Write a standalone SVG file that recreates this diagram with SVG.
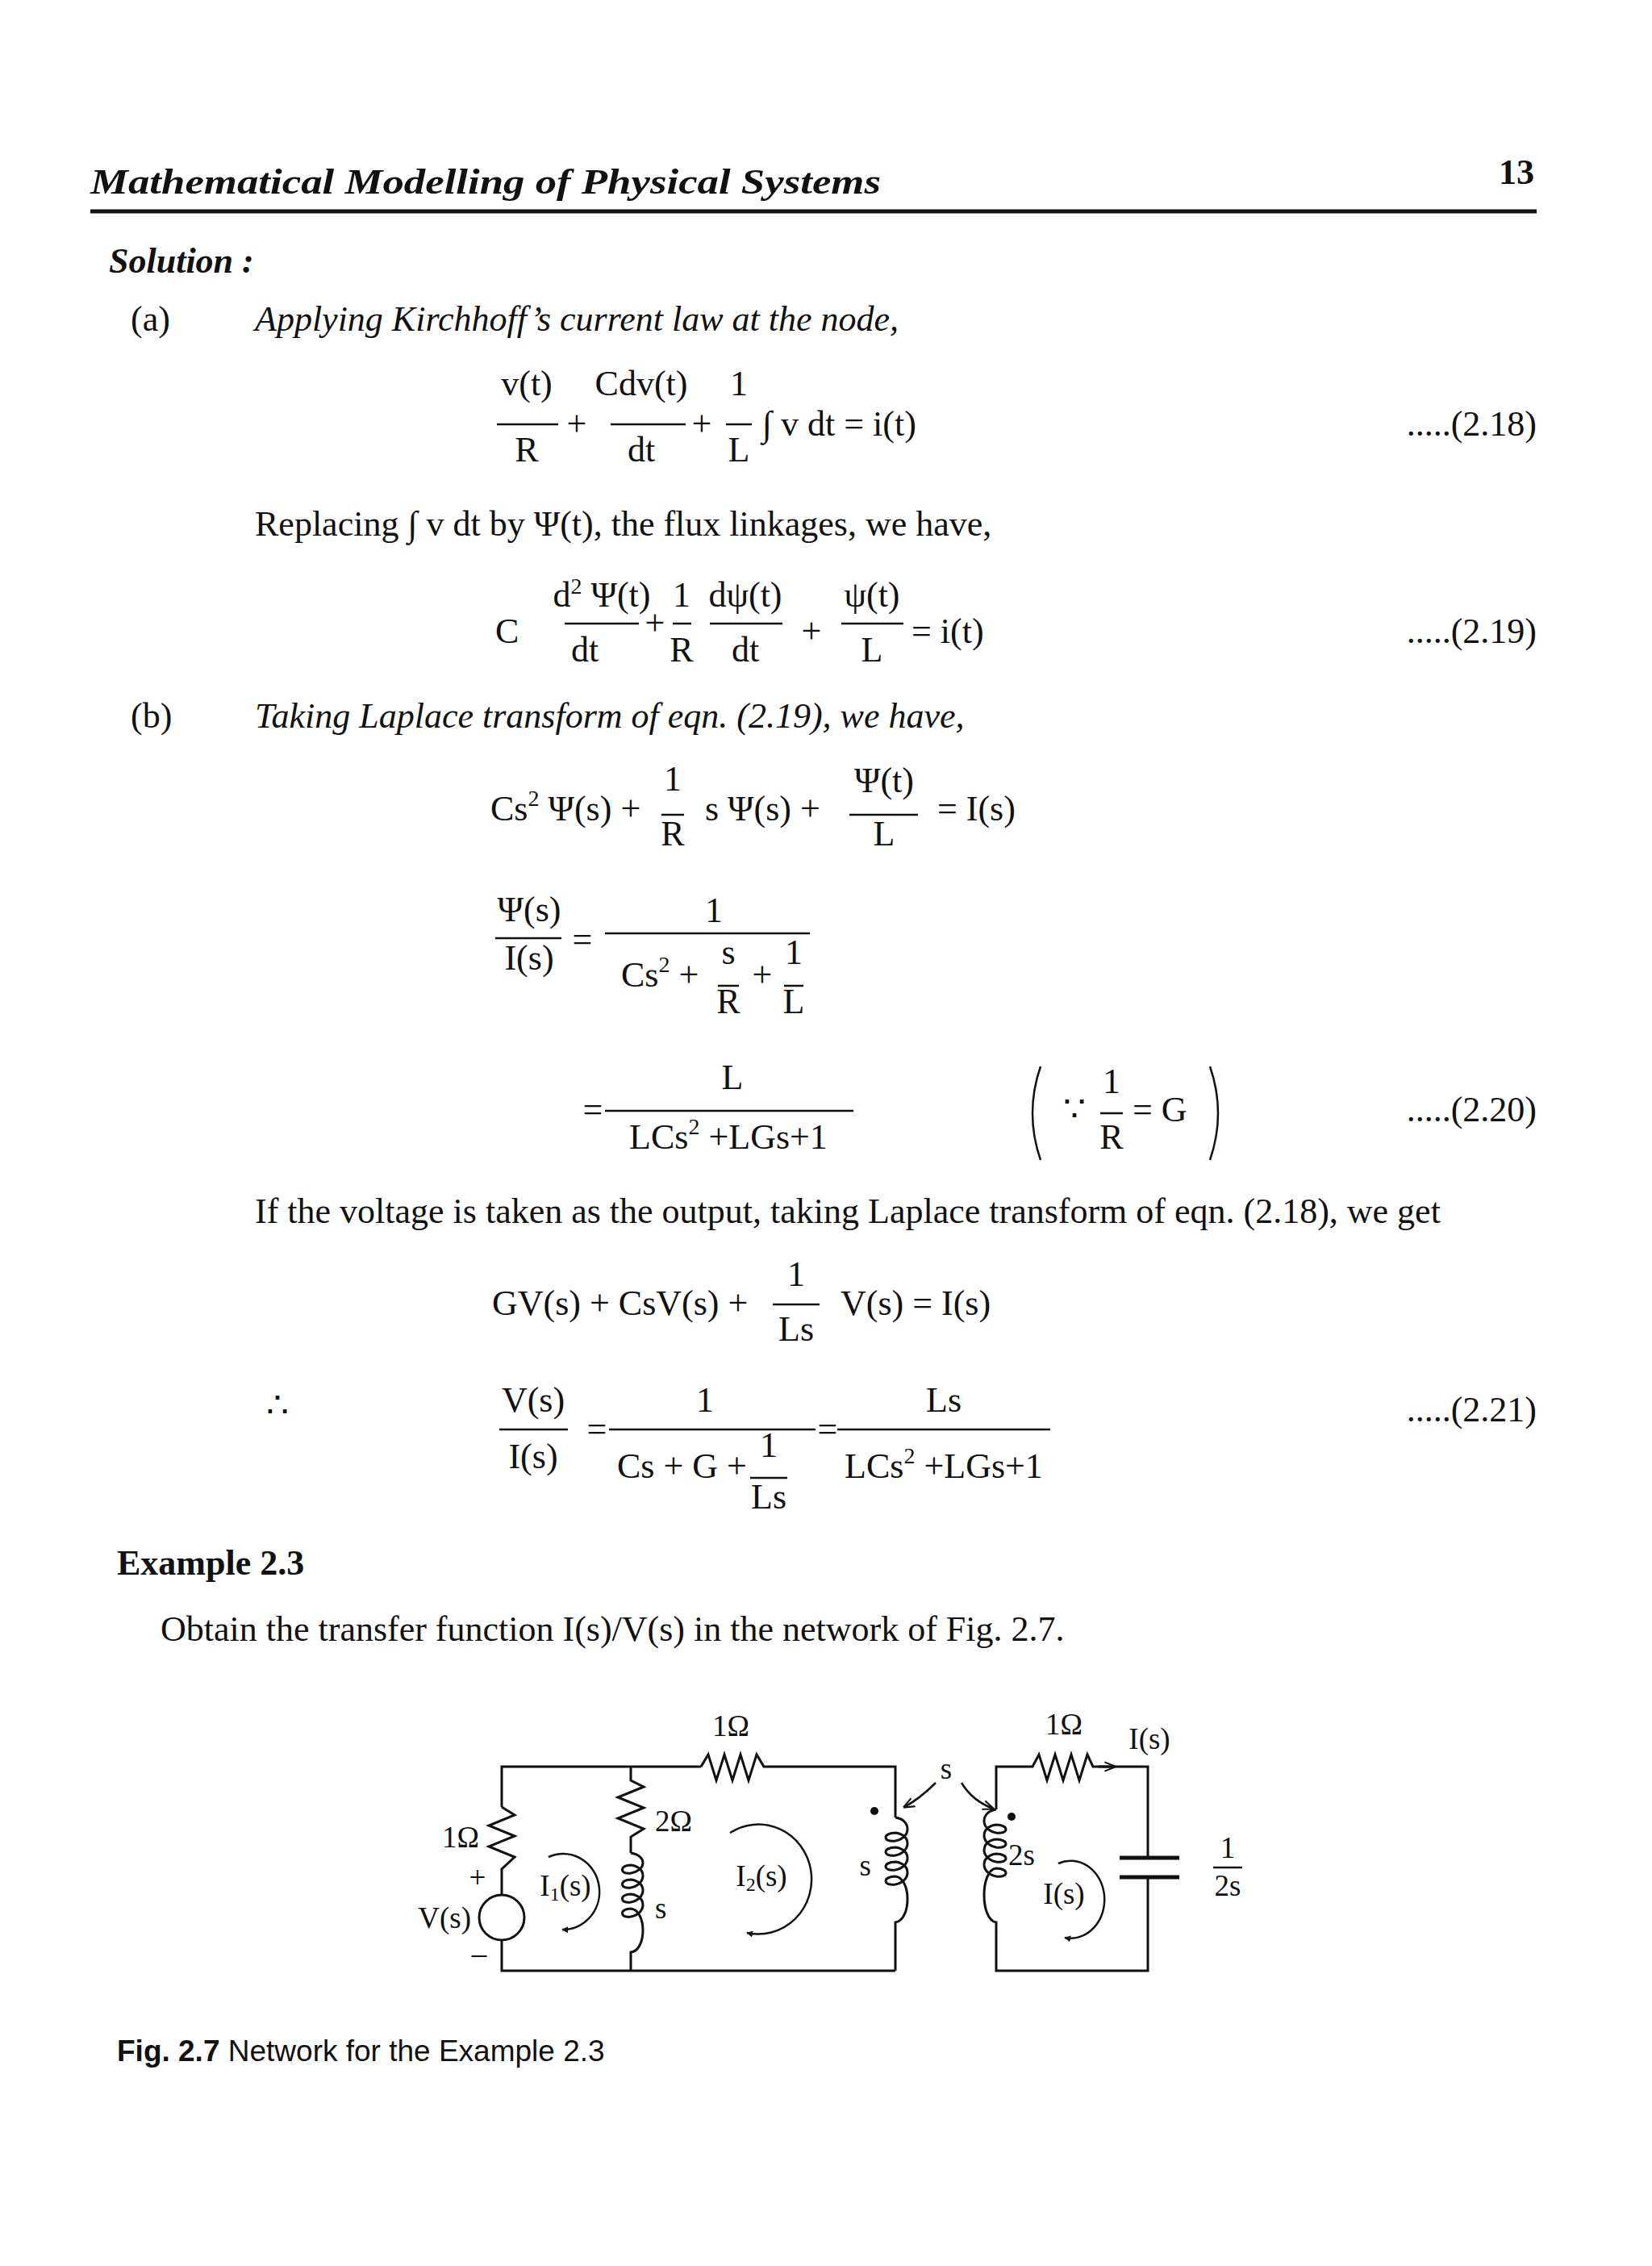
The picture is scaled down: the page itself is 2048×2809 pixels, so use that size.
<svg xmlns="http://www.w3.org/2000/svg" width="2048" height="2809" viewBox="0 0 2048 2809">
<style>
text{font-family:"Liberation Serif",serif;font-size:44px;fill:#111}
.c{text-anchor:middle}
.r{text-anchor:end}
.i{font-style:italic}
.b{font-weight:bold}
.sm{font-size:37px}
.sup{font-size:28px}
.ln{stroke:#111;stroke-width:2.5;fill:none}
.w{stroke:#111;stroke-width:3;fill:none}
</style>
<defs>
<marker id="ah" viewBox="0 0 10 10" refX="9" refY="5" markerWidth="8" markerHeight="8" orient="auto" markerUnits="userSpaceOnUse"><path d="M0,0 L10,5 L0,10 z" fill="#111"/></marker>
<marker id="ao" viewBox="0 0 10 10" refX="9" refY="5" markerWidth="14" markerHeight="14" orient="auto" markerUnits="userSpaceOnUse"><path d="M0,1 L10,5 L0,9" fill="none" stroke="#111" stroke-width="1.5"/></marker>
</defs>
<rect width="2048" height="2809" fill="#fff"/>
<g id="header">
<text x="112" y="240" class="i b" textLength="980" lengthAdjust="spacingAndGlyphs">Mathematical Modelling of Physical Systems</text>
<text x="1902" y="228" class="r b">13</text>
<line x1="112" y1="262" x2="1905" y2="262" stroke="#111" stroke-width="5"/>
</g>
<g id="text">
<text x="135" y="338" class="i b">Solution :</text>
<text x="162" y="410">(a)</text>
<text x="316" y="410" class="i">Applying Kirchhoff’s current law at the node,</text>
<!-- 2.18 -->
<text x="653" y="490" class="c">v(t)</text><line class="ln" x1="616" y1="526" x2="692" y2="526"/><text x="653" y="572" class="c">R</text>
<text x="715" y="540" class="c">+</text>
<text x="795" y="490" class="c">Cdv(t)</text><line class="ln" x1="757" y1="526" x2="850" y2="526"/><text x="795" y="572" class="c">dt</text>
<text x="870" y="540" class="c">+</text>
<text x="916" y="490" class="c">1</text><line class="ln" x1="900" y1="526" x2="932" y2="526"/><text x="916" y="572" class="c">L</text>
<text x="945" y="540">∫ v dt  = i(t)</text>
<text x="1905" y="540" class="r">.....(2.18)</text>
<text x="316" y="664">Replacing ∫ v dt by Ψ(t), the flux linkages, we have,</text>
<!-- 2.19 -->
<text x="614" y="797">C</text>
<text x="746" y="752" class="c">d<tspan class="sup" dy="-16">2</tspan><tspan dy="16"> Ψ(t)</tspan></text><line class="ln" x1="700" y1="773" x2="792" y2="773"/><text x="725" y="820" class="c">dt</text>
<text x="812" y="787" class="c">+</text>
<text x="845" y="752" class="c">1</text><line class="ln" x1="834" y1="773" x2="857" y2="773"/><text x="845" y="820" class="c">R</text>
<text x="924" y="752" class="c">dψ(t)</text><line class="ln" x1="880" y1="773" x2="970" y2="773"/><text x="924" y="820" class="c">dt</text>
<text x="1006" y="797" class="c">+</text>
<text x="1081" y="752" class="c">ψ(t)</text><line class="ln" x1="1043" y1="773" x2="1120" y2="773"/><text x="1081" y="820" class="c">L</text>
<text x="1130" y="797">= i(t)</text>
<text x="1905" y="797" class="r">.....(2.19)</text>
<text x="162" y="902">(b)</text>
<text x="316" y="902" class="i">Taking Laplace transform of eqn. (2.19), we have,</text>
<text x="608" y="1017">Cs<tspan class="sup" dy="-18">2</tspan><tspan dy="18"> Ψ(s) +</tspan></text>
<text x="834" y="980" class="c">1</text><line class="ln" x1="820" y1="1010" x2="848" y2="1010"/><text x="834" y="1048" class="c">R</text>
<text x="874" y="1017">s Ψ(s) +</text>
<text x="1096" y="982" class="c">Ψ(t)</text><line class="ln" x1="1053" y1="1010" x2="1138" y2="1010"/><text x="1096" y="1048" class="c">L</text>
<text x="1162" y="1017">= I(s)</text>
<!-- Psi/I -->
<text x="656" y="1142" class="c">Ψ(s)</text><line class="ln" x1="614" y1="1163" x2="696" y2="1163"/><text x="656" y="1202" class="c">I(s)</text>
<text x="722" y="1179" class="c">=</text>
<text x="885" y="1143" class="c">1</text><line class="ln" x1="750" y1="1157" x2="1004" y2="1157"/>
<text x="770" y="1223">Cs<tspan class="sup" dy="-18">2</tspan><tspan dy="18"> +</tspan></text>
<text x="903" y="1195" class="c">s</text><line class="ln" x1="890" y1="1222" x2="916" y2="1222"/><text x="903" y="1256" class="c">R</text>
<text x="945" y="1223" class="c">+</text>
<text x="984" y="1195" class="c">1</text><line class="ln" x1="972" y1="1222" x2="996" y2="1222"/><text x="984" y="1256" class="c">L</text>
<text x="735" y="1390" class="c">=</text>
<text x="908" y="1350" class="c">L</text><line class="ln" x1="750" y1="1377" x2="1058" y2="1377"/>
<text x="903" y="1424" class="c">LCs<tspan class="sup" dy="-18">2</tspan><tspan dy="18"> +LGs+1</tspan></text>
<path class="ln" d="M1290,1322 Q1270,1380 1290,1438"/>
<path class="ln" d="M1500,1322 Q1520,1380 1500,1438"/>
<text x="1318" y="1390">∵</text>
<text x="1378" y="1355" class="c">1</text><line class="ln" x1="1364" y1="1380" x2="1392" y2="1380"/><text x="1378" y="1424" class="c">R</text>
<text x="1404" y="1390">= G</text>
<text x="1905" y="1390" class="r">.....(2.20)</text>
<text x="316" y="1516">If the voltage is taken as the output, taking Laplace transform of eqn. (2.18), we get</text>
<text x="610" y="1630">GV(s) + CsV(s) +</text>
<text x="987" y="1594" class="c">1</text><line class="ln" x1="958" y1="1617" x2="1016" y2="1617"/><text x="987" y="1662" class="c">Ls</text>
<text x="1042" y="1630">V(s) = I(s)</text>
<text x="330" y="1757">∴</text>
<text x="661" y="1750" class="c">V(s)</text><line class="ln" x1="619" y1="1772" x2="704" y2="1772"/><text x="661" y="1820" class="c">I(s)</text>
<text x="740" y="1786" class="c">=</text>
<text x="874" y="1750" class="c">1</text><line class="ln" x1="755" y1="1772" x2="1011" y2="1772"/>
<text x="765" y="1832">Cs + G +</text>
<text x="953" y="1806" class="c">1</text><line class="ln" x1="930" y1="1832" x2="976" y2="1832"/><text x="953" y="1870" class="c">Ls</text>
<text x="1026" y="1786" class="c">=</text>
<text x="1170" y="1750" class="c">Ls</text><line class="ln" x1="1038" y1="1772" x2="1302" y2="1772"/>
<text x="1170" y="1832" class="c">LCs<tspan class="sup" dy="-18">2</tspan><tspan dy="18"> +LGs+1</tspan></text>
<text x="1905" y="1762" class="r">.....(2.21)</text>
<text x="145" y="1952" class="b">Example 2.3</text>
<text x="199" y="2034">Obtain the transfer function I(s)/V(s) in the network of Fig. 2.7.</text>
<text x="145" y="2555" style="font-family:'Liberation Sans',sans-serif;font-size:37px"><tspan font-weight="bold">Fig. 2.7</tspan> Network for the Example 2.3</text>
</g>
<g id="connectors">
<path class="w" d="M869,2190 H622 V2240"/>
<path class="w" d="M622,2240 L638,2250 L606,2263 L638,2276 L606,2289 L638,2302 L622,2317 V2349"/>
<path class="w" d="M622,2405 V2443 H1110"/>
<path class="w" d="M869,2190 L878,2175 L888,2207 L898,2175 L908,2207 L918,2175 L928,2207 L938,2175 L947,2190 H1110 V2253"/>
<path class="w" d="M782,2190 V2207 L798,2215 L766,2228 L798,2241 L766,2254 L798,2267 L782,2277 V2297"/>
<path class="w" d="M782,2297 C802,2300 802,2318 782,2322 C768,2324 768,2312 782,2312 C802,2314 802,2336 782,2340 C768,2342 768,2330 782,2330 C802,2332 802,2354 782,2358 C768,2360 768,2348 782,2348 C802,2350 802,2372 782,2376 C768,2378 768,2366 782,2366 C802,2368 802,2418 782,2420 V2443"/>
<path class="w" d="M1110,2253 C1130,2256 1130,2278 1110,2282 C1094,2284 1094,2272 1110,2272 C1130,2274 1130,2296 1110,2300 C1094,2302 1094,2290 1110,2290 C1130,2292 1130,2314 1110,2318 C1094,2320 1094,2308 1110,2308 C1130,2310 1130,2332 1110,2336 C1094,2338 1094,2326 1110,2326 C1130,2328 1130,2380 1110,2383 V2443"/>
<path class="w" d="M1235,2243 V2190 H1280 L1288,2175 L1298,2207 L1308,2175 L1318,2207 L1328,2175 L1338,2207 L1348,2175 L1355,2190 H1423 V2303"/>
<path class="w" d="M1235,2243 C1215,2246 1215,2268 1235,2272 C1251,2274 1251,2262 1235,2262 C1215,2264 1215,2286 1235,2290 C1251,2292 1251,2280 1235,2280 C1215,2282 1215,2304 1235,2308 C1251,2310 1251,2298 1235,2298 C1215,2300 1215,2322 1235,2326 C1251,2328 1251,2316 1235,2316 C1215,2318 1215,2380 1235,2383 V2443 H1423 V2327"/>
<line x1="1388" y1="2303" x2="1462" y2="2303" stroke="#111" stroke-width="5"/>
<line x1="1388" y1="2327" x2="1462" y2="2327" stroke="#111" stroke-width="5"/>
<path class="w" d="M1362,2190 L1382,2190" marker-end="url(#ao)"/>
<circle cx="622" cy="2377" r="28" class="w"/>
<circle cx="1084" cy="2245" r="5" fill="#111"/>
<circle cx="1254" cy="2252" r="5" fill="#111"/>
<path class="ln" d="M1160,2210 Q1140,2230 1121,2240" marker-end="url(#ao)"/>
<path class="ln" d="M1192,2210 Q1205,2232 1231,2242" marker-end="url(#ao)"/>
<path class="ln" d="M680,2302 A45,47 0 1 1 697,2392" marker-end="url(#ah)"/>
<path class="ln" d="M905,2272 A66,68 0 1 1 926,2396" marker-end="url(#ah)"/>
<path class="ln" d="M1312,2310 A42,48 0 1 1 1320,2402" marker-end="url(#ah)"/>
</g>
<g id="labels">
<text x="906" y="2152" class="c sm">1Ω</text>
<text x="571" y="2290" class="c sm">1Ω</text>
<text x="592" y="2340" class="c sm">+</text>
<text x="584" y="2390" class="r sm">V(s)</text>
<text x="594" y="2434" class="c sm">–</text>
<text x="812" y="2270" class="sm">2Ω</text>
<text x="812" y="2378" class="sm">s</text>
<text x="701" y="2350" class="c sm">I<tspan font-size="24" dy="6">1</tspan><tspan dy="-6">(s)</tspan></text>
<text x="944" y="2338" class="c sm">I<tspan font-size="24" dy="6">2</tspan><tspan dy="-6">(s)</tspan></text>
<text x="1080" y="2325" class="r sm">s</text>
<text x="1173" y="2205" class="c sm">s</text>
<text x="1250" y="2312" class="sm">2s</text>
<text x="1319" y="2360" class="c sm">I(s)</text>
<text x="1319" y="2150" class="c sm">1Ω</text>
<text x="1425" y="2168" class="c sm">I(s)</text>
<text x="1522" y="2303" class="c sm">1</text>
<line class="ln" x1="1504" y1="2315" x2="1540" y2="2315"/>
<text x="1522" y="2350" class="c sm">2s</text>
</g>
</svg>
